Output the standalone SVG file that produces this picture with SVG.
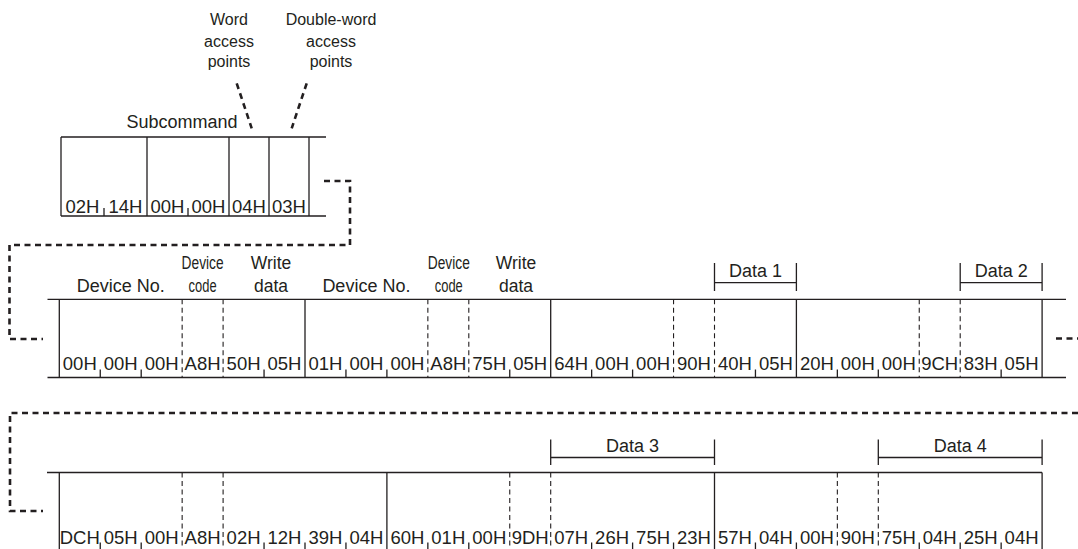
<svg xmlns="http://www.w3.org/2000/svg" width="1078" height="549" viewBox="0 0 1078 549">
<style>
text{font-family:"Liberation Sans",Arial,sans-serif;fill:#231f20}
.b{font-size:18.5px;text-anchor:middle}
.m{font-size:16px;text-anchor:middle}
.h{font-size:18px;text-anchor:middle}
.l{stroke:#231f20;stroke-width:1.3;fill:none}
.d{stroke:#231f20;stroke-width:1.1;stroke-dasharray:5 3.5;fill:none}
.c{stroke:#231f20;stroke-width:2.6;stroke-dasharray:6 4.5;fill:none}
</style>
<rect width="1078" height="549" fill="#fff"/>

<g id="label-word-access">
<text class="m" x="229" y="25">Word</text>
<text class="m" x="229" y="46.5">access</text>
<text class="m" x="229" y="67">points</text>
</g>
<g id="label-dword-access">
<text class="m" x="331" y="25">Double-word</text>
<text class="m" x="331" y="46.5">access</text>
<text class="m" x="331" y="67">points</text>
</g>
<g id="label-subcommand">
<text class="h" x="182" y="128">Subcommand</text>
</g>

<g id="subcommand-frame">
<path class="l" d="M61,137H326M61,216H326M61,137V216M147,137V216M229,137V216M269,137V216M309,137V216"/>
<path class="l" d="M104,208V216M188,208V216"/>
<text class="b" x="82.5" y="212.5">02H</text>
<text class="b" x="125.5" y="212.5">14H</text>
<text class="b" x="167.5" y="212.5">00H</text>
<text class="b" x="208.5" y="212.5">00H</text>
<text class="b" x="249" y="212.5">04H</text>
<text class="b" x="289" y="212.5">03H</text>
</g>

<g id="row1-labels">
<text class="h" x="120.7" y="291.5">Device No.</text>
<text class="h" x="202.6" y="268.5" textLength="42" lengthAdjust="spacingAndGlyphs">Device</text>
<text class="h" x="202.6" y="291.5" textLength="28" lengthAdjust="spacingAndGlyphs">code</text>
<text class="h" x="271" y="269" style="font-size:17.5px">Write</text>
<text class="h" x="271" y="291.5" style="font-size:17.5px">data</text>
<text class="h" x="366.4" y="291.5">Device No.</text>
<text class="h" x="448.8" y="268.5" textLength="42" lengthAdjust="spacingAndGlyphs">Device</text>
<text class="h" x="448.8" y="291.5" textLength="28" lengthAdjust="spacingAndGlyphs">code</text>
<text class="h" x="516" y="269" style="font-size:17.5px">Write</text>
<text class="h" x="516" y="291.5" style="font-size:17.5px">data</text>
</g>
<g id="data1">
<path class="l" d="M714.5,263V291M796.4,263V291M714.5,282.7H796.4"/>
<text class="h" x="755.5" y="276.5">Data 1</text>
</g>
<g id="data2">
<path class="l" d="M960.2,263V291M1042.1,263V291M960.2,282.7H1042.1"/>
<text class="h" x="1001.2" y="276.5">Data 2</text>
</g>

<g id="row1">
<path class="l" d="M47.5,299.3H1066M47.5,377.5H1066M59.3,299.3V377.5M305,299.3V377.5M550.7,299.3V377.5M796.4,299.3V377.5M1042.1,299.3V377.5"/>
<path class="d" d="M182.15,299.3V377.5M223.1,299.3V377.5M427.85,299.3V377.5M468.8,299.3V377.5M673.55,299.3V377.5M714.5,299.3V377.5M919.25,299.3V377.5M960.2,299.3V377.5"/>
<path class="l" d="M100.25,369.5V377.5M141.2,369.5V377.5M264.05,369.5V377.5M345.95,369.5V377.5M386.9,369.5V377.5M509.75,369.5V377.5M591.65,369.5V377.5M632.6,369.5V377.5M755.45,369.5V377.5M837.35,369.5V377.5M878.3,369.5V377.5M1001.15,369.5V377.5"/>
<g class="b">
<text class="b" x="79.8" y="369.5">00H</text>
<text class="b" x="120.7" y="369.5">00H</text>
<text class="b" x="161.7" y="369.5">00H</text>
<text class="b" x="202.6" y="369.5">A8H</text>
<text class="b" x="243.6" y="369.5">50H</text>
<text class="b" x="284.5" y="369.5">05H</text>
<text class="b" x="325.5" y="369.5">01H</text>
<text class="b" x="366.4" y="369.5">00H</text>
<text class="b" x="407.4" y="369.5">00H</text>
<text class="b" x="448.3" y="369.5">A8H</text>
<text class="b" x="489.3" y="369.5">75H</text>
<text class="b" x="530.2" y="369.5">05H</text>
<text class="b" x="571.2" y="369.5">64H</text>
<text class="b" x="612.1" y="369.5">00H</text>
<text class="b" x="653.1" y="369.5">00H</text>
<text class="b" x="694" y="369.5">90H</text>
<text class="b" x="735" y="369.5">40H</text>
<text class="b" x="775.9" y="369.5">05H</text>
<text class="b" x="816.9" y="369.5">20H</text>
<text class="b" x="857.8" y="369.5">00H</text>
<text class="b" x="898.8" y="369.5">00H</text>
<text class="b" x="939.7" y="369.5">9CH</text>
<text class="b" x="980.7" y="369.5">83H</text>
<text class="b" x="1021.6" y="369.5">05H</text>
</g>
</g>

<g id="data3">
<path class="l" d="M550.7,439.5V465M714.5,439.5V465M550.7,457.5H714.5"/>
<text class="h" x="632.6" y="451.5">Data 3</text>
</g>
<g id="data4">
<path class="l" d="M878.3,439.5V465M1042.1,439.5V465M878.3,457.5H1042.1"/>
<text class="h" x="960.2" y="451.5">Data 4</text>
</g>

<g id="row2">
<path class="l" d="M47,472.5H1042.1M59.3,472.5V552M386.9,472.5V552M714.5,472.5V552M1042.1,472.5V552"/>
<path class="d" d="M182.15,472.5V552M223.1,472.5V552M509.75,472.5V552M550.7,472.5V552M837.35,472.5V552M878.3,472.5V552"/>
<path class="l" d="M100.25,542.5V552M141.2,542.5V552M264.05,542.5V552M305,542.5V552M345.95,542.5V552M427.85,542.5V552M468.8,542.5V552M591.65,542.5V552M632.6,542.5V552M673.55,542.5V552M755.45,542.5V552M796.4,542.5V552M919.25,542.5V552M960.2,542.5V552M1001.15,542.5V552"/>
<text class="b" x="79.8" y="543.5">DCH</text>
<text class="b" x="120.7" y="543.5">05H</text>
<text class="b" x="161.7" y="543.5">00H</text>
<text class="b" x="202.6" y="543.5">A8H</text>
<text class="b" x="243.6" y="543.5">02H</text>
<text class="b" x="284.5" y="543.5">12H</text>
<text class="b" x="325.5" y="543.5">39H</text>
<text class="b" x="366.4" y="543.5">04H</text>
<text class="b" x="407.4" y="543.5">60H</text>
<text class="b" x="448.3" y="543.5">01H</text>
<text class="b" x="489.3" y="543.5">00H</text>
<text class="b" x="530.2" y="543.5">9DH</text>
<text class="b" x="571.2" y="543.5">07H</text>
<text class="b" x="612.1" y="543.5">26H</text>
<text class="b" x="653.1" y="543.5">75H</text>
<text class="b" x="694" y="543.5">23H</text>
<text class="b" x="735" y="543.5">57H</text>
<text class="b" x="775.9" y="543.5">04H</text>
<text class="b" x="816.9" y="543.5">00H</text>
<text class="b" x="857.8" y="543.5">90H</text>
<text class="b" x="898.8" y="543.5">75H</text>
<text class="b" x="939.7" y="543.5">04H</text>
<text class="b" x="980.7" y="543.5">25H</text>
<text class="b" x="1021.6" y="543.5">04H</text>
</g>

<g id="connectors">
<path class="c" d="M236.7,83.3L251.7,128.3"/>
<path class="c" d="M306.7,83.3L291.7,128.3"/>
<path class="c" d="M324,181H350V245H9.5V339H43"/>
<path class="c" d="M1056,338.5H1078"/>
<path class="c" d="M1078,413H10V511H43"/>
</g>
</svg>
